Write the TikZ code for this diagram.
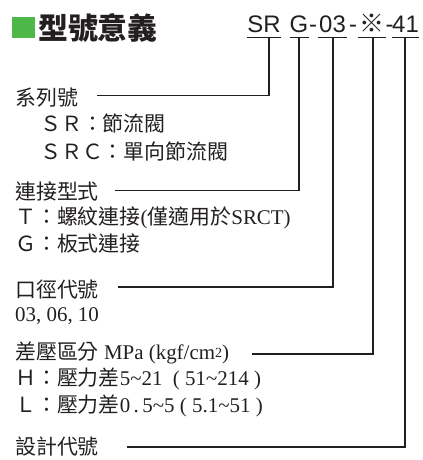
\documentclass[tikz,border=0pt]{standalone}
\usepackage{fontspec}
\setmainfont{Liberation Serif}
\setsansfont{Liberation Sans}
\newfontfamily\cjk{Noto Sans CJK TC}
\definecolor{ink}{HTML}{231F20}
\definecolor{grn}{HTML}{4DB848}
\newcommand{\tl}{\textasciitilde}
\begin{document}
\begin{tikzpicture}[x=1bp,y=-1bp,
  lab/.style={anchor=west, inner sep=0pt, text=ink, font=\fontsize{21}{25}\selectfont},
  code/.style={anchor=south, inner sep=0pt, text=ink, text depth=4.5bp, text height=18bp,
               font=\sffamily\fontsize{24}{28}\selectfont},
  conn/.style={draw=ink, line width=1.3bp},
  title/.style={anchor=west, inner sep=0pt, text=ink, font=\cjk\bfseries\fontsize{30}{34}\selectfont}]
\useasboundingbox (0,0) rectangle (422,460);

% title
\fill[grn] (12,17) rectangle (35,38);
\node[title] (ttl) at (38,28) {型號意義};

% code parts
\node[code, minimum width=33bp] (cSR) at (264,37.5) {SR};
\node[code, minimum width=18bp] (cG)  at (299,37.5) {G};
\node[code] (d1) at (313,37.5) {-};
\node[code, minimum width=29bp] (c03) at (332.5,37.5) {03};
\node[code] (d2) at (353,37.5) {-};
\node[code, minimum width=27bp] (cX)  at (372,37.5) {\cjk\fontsize{25}{28}\selectfont ※};
\node[code] (d3) at (389.5,37.5) {-};
\node[code, minimum width=24bp] (c41) at (405.5,37.5) {41};
\foreach \n in {cSR,cG,c03,cX,c41}
  \draw[conn] (\n.south west) -- (\n.south east);

% labels
\node[lab] (l1) at (15,98) {\cjk 系列號};
\node[lab] (l1a) at (40,124) {\cjk ＳＲ：節流閥};
\node[lab] (l1b) at (40,152) {\cjk ＳＲＣ：單向節流閥};

\node[lab] (l2) at (15,192) {\cjk 連接型式};
\node[lab] (l2a) at (15,218) {{\cjk Ｔ：螺紋連接}({\cjk 僅適用於}SRCT)};
\node[lab] (l2b) at (15,244) {\cjk Ｇ：板式連接};

\node[lab] (l3) at (15,290) {\cjk 口徑代號};
\node[lab] (l3a) at (15,316) {03, 06, 10};

\node[lab] (l4) at (15,353) {{\cjk 差壓區分} MPa (kgf/cm\raisebox{0.25ex}{\fontsize{14}{16}\selectfont 2})};
\node[lab] (l4a) at (15,379) {{\cjk Ｈ：壓力差}5\tl21\ \ ( 51\tl214 )};
\node[lab] (l4b) at (15,406) {{\cjk Ｌ：壓力差}0\,.\,5\tl5 ( 5.1\tl51 )};

\node[lab] (l5) at (15,447) {\cjk 設計代號};

% connector start points
\coordinate (s1) at (97,95.5);
\coordinate (s2) at (115,190.5);
\coordinate (s3) at (118,287);
\coordinate (s4) at (252,354);
\coordinate (s5) at (127,447);

\draw[conn] (s1) -| ([xshift=5bp]cSR.south);
\draw[conn] (s2) -| (cG.south);
\draw[conn] (s3) -| ([xshift=0.5bp]c03.south);
\draw[conn] (s4) -| ([xshift=1bp]cX.south);
\draw[conn] (s5) -| ([xshift=-0.5bp]c41.south);
\end{tikzpicture}
\end{document}
